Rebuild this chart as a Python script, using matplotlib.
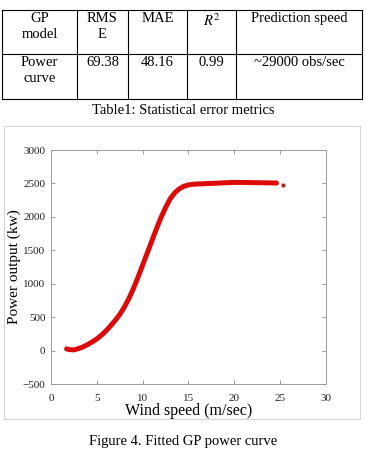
import matplotlib
matplotlib.use("Agg")
import matplotlib.pyplot as plt
from matplotlib.patches import Rectangle

plt.rcParams['mathtext.fontset'] = 'stix'

# Table contents
table_header = ["GP\nmodel", "RMS\nE", "MAE", "$R^2$", "Prediction speed"]
table_row = ["Power\ncurve", "69.38", "48.16", "0.99", "~29000 obs/sec"]
table_caption = "Table1: Statistical error metrics"
fig_caption = "Figure 4. Fitted GP power curve"

# Fitted GP power curve
wind_speed = [1.7, 2.0, 2.5, 3.0, 3.5, 4.0, 4.5, 5.0, 5.5, 6.0, 6.5, 7.0,
              7.5, 8.0, 8.5, 9.0, 9.5, 10.0, 10.5, 11.0, 11.5, 12.0, 12.5,
              13.0, 13.5, 14.0, 14.5, 15.0, 15.5, 16.0, 17.0, 18.0, 19.0,
              20.0, 21.0, 22.0, 23.0, 24.0, 24.6]
power_out = [25, 15, 10, 30, 55, 90, 130, 175, 230, 295, 370, 450,
             540, 650, 780, 930, 1100, 1280, 1460, 1640, 1820, 1990, 2140,
             2270, 2360, 2420, 2458, 2478, 2487, 2492, 2497, 2503, 2510,
             2515, 2515, 2512, 2510, 2508, 2506]
outlier_speed = [25.3]
outlier_power = [2473]

xticks = [0, 5, 10, 15, 20, 25, 30]
yticks = [-500, 0, 500, 1000, 1500, 2000, 2500, 3000]

W, H = 366, 463
fig = plt.figure(figsize=(W / 100, H / 100), dpi=100)

# overlay axes in pixel coordinates for the table and captions
bg = fig.add_axes([0, 0, 1, 1])
bg.set_xlim(0, W)
bg.set_ylim(H, 0)
bg.axis("off")

serif = "Liberation Serif"

# table grid
col_x = [2, 77, 128, 187, 236, 362]
row_y = [10, 54, 99]
for x in col_x:
    bg.plot([x, x], [row_y[0], row_y[-1]], color="black", lw=0.8)
for y in row_y:
    bg.plot([col_x[0], col_x[-1]], [y, y], color="black", lw=0.8)

for i in range(len(table_header)):
    cx = (col_x[i] + col_x[i + 1]) / 2
    bg.text(cx, 12, table_header[i], ha="center", va="top", fontsize=10.5,
            family=serif, linespacing=1.3)
    bg.text(cx, 56, table_row[i], ha="center", va="top", fontsize=10.5,
            family=serif, linespacing=1.3)

bg.text(183, 110, table_caption, ha="center", va="center", fontsize=10.5,
        family=serif)

# light frame around the figure
bg.add_patch(Rectangle((4, 126), 356, 293, fill=False, edgecolor="#d4d4d4",
                       lw=0.8))

bg.text(183, 442, fig_caption, ha="center", va="center", fontsize=10.5,
        family=serif)

# the plot
ax = fig.add_axes([51 / W, 1 - 384 / H, 275 / W, 234 / H])
ax.plot(wind_speed, power_out, color="#dd0a0a", lw=3.6,
        solid_capstyle="round", solid_joinstyle="round")
ax.plot(outlier_speed, outlier_power, "o", color="#c8141e", ms=3,
        mec="none")

ax.set_xlim(0, 30)
ax.set_ylim(-500, 3000)
ax.set_xticks(xticks)
ax.set_yticks(yticks)
ax.tick_params(direction="in", length=3, width=0.6, color="#888888",
               top=True, right=True, labelsize=8, labelcolor="#222222")
ax.tick_params(axis="x", pad=7)
ax.tick_params(axis="y", pad=4)
for lab in ax.get_xticklabels() + ax.get_yticklabels():
    lab.set_family(serif)
for s in ax.spines.values():
    s.set_color("#9a9a9a")
    s.set_linewidth(0.7)

ax.set_xlabel("Wind speed (m/sec)", family=serif, fontsize=11.5, labelpad=0)
ax.set_ylabel("Power output (kw)", family=serif, fontsize=11)
ax.yaxis.set_label_coords(-0.108, 0.5)

fig.savefig("out.png", dpi=100)
